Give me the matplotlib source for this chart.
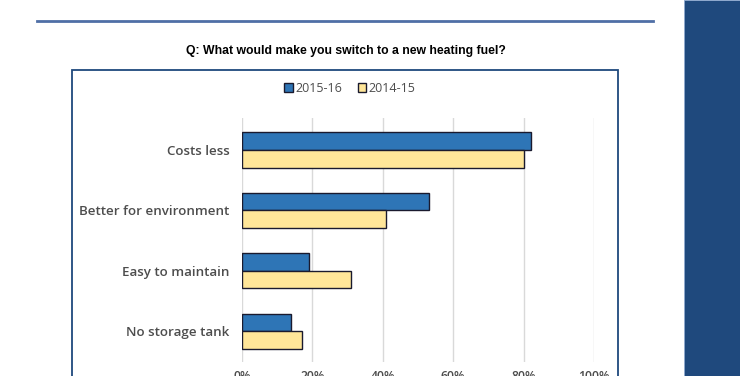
"""
Survey chart: what would make you switch to a new heating fuel
"""

import matplotlib.pyplot as plt
from matplotlib.patches import Rectangle
from matplotlib.lines import Line2D
import numpy as np

# data
categories = ['Costs less', 'Better for environment', 'Easy to maintain', 'No storage tank']
series_names = ['2015-16', '2014-15']
values_2015_16 = [82, 53, 19, 14]
values_2014_15 = [80, 41, 31, 17]
tick_values = [0, 20, 40, 60, 80, 100]
tick_labels = ['0%', '20%', '40%', '60%', '80%', '100%']
title = 'Q: What would make you switch to a new heating fuel?'

blue = '#2e75b6'
yellow = '#ffe699'
navy = '#1f497d'
grey = '#4d4d4d'
W, H = 740, 376


def px(x0, y0, x1, y1):
	# pixel box (top-left origin) -> figure fraction [l, b, w, h]
	return [x0 / W, 1 - y1 / H, (x1 - x0) / W, (y1 - y0) / H]


def main():
	fig = plt.figure(figsize=(W / 100, H / 100), dpi=100)
	fig.patch.set_facecolor('white')

	# page decoration: header rule and right-hand panel
	fig.add_artist(Line2D([37 / W, 653 / W], [1 - 21 / H] * 2, color='#4f6fa6', lw=2))
	fig.add_artist(Rectangle((684 / W, 0), 56 / W, 1, transform=fig.transFigure,
		facecolor=navy, edgecolor='#8fa9cf', lw=0.6))

	# chart frame (behind the axes)
	fig.add_artist(Rectangle((72 / W, -0.05), (618 - 72) / W, 1 - 70 / H + 0.05,
		transform=fig.transFigure, facecolor='white', edgecolor=navy, lw=1.3, zorder=-1))

	fig.text(346 / W, 1 - 51 / H, title, ha='center', va='center',
		fontsize=8.8, fontweight='bold', family='Liberation Sans', color='black')

	ax = fig.add_axes(px(242, 118, 594, 362))
	ax.set_zorder(2)
	y = np.arange(len(categories))
	h = 0.29
	ax.barh(y - h / 2, values_2015_16, height=h, color=blue, edgecolor='#1a1a2e', lw=1.0,
		label=series_names[0], zorder=3)
	ax.barh(y + h / 2, values_2014_15, height=h, color=yellow, edgecolor='#1a1a2e', lw=1.0,
		label=series_names[1], zorder=3)

	ax.set_xlim(0, 100)
	ax.set_ylim(3.51, -0.53)
	ax.set_xticks(tick_values)
	ax.set_xticklabels(tick_labels)
	ax.set_yticks(y)
	ax.set_yticklabels(categories)
	ax.tick_params(axis='y', length=0, pad=9, labelsize=9.6, labelcolor=grey)
	ax.tick_params(axis='x', length=0, pad=6, labelsize=8.8, labelcolor=grey)
	for lab in ax.get_yticklabels() + ax.get_xticklabels():
		lab.set_family('Open Sans')
		lab.set_fontweight('semibold')
	ax.grid(axis='x', color='#d9d9d9', lw=1, zorder=0)
	for s in ax.spines.values():
		s.set_visible(False)
	ax.set_facecolor('none')

	leg = fig.legend(loc='center', bbox_to_anchor=(350 / W, 1 - 88 / H), ncol=2,
		frameon=False, handlelength=0.7, handleheight=0.7, handletextpad=0.2,
		columnspacing=1.2, prop={'family': 'Open Sans', 'size': 9})
	for t in leg.get_texts():
		t.set_color(grey)

	fig.savefig('out.png', dpi=100)


if __name__ == '__main__':
	main()
